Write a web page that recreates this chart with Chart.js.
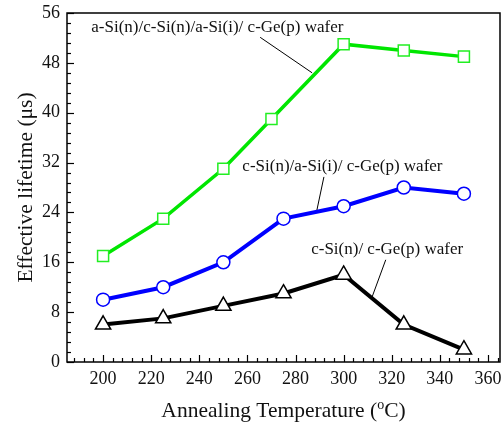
<!DOCTYPE html>
<html><head><meta charset="utf-8">
<script src="https://cdn.jsdelivr.net/npm/chart.js@4/dist/chart.umd.min.js"></script>
<style>html,body{margin:0;padding:0;background:#fff;overflow:hidden}canvas{display:block}</style>
</head><body><canvas id="c" width="504" height="422"></canvas>
<script>
// ---- data ----
const tempsGreen = [200, 225, 250, 270, 300, 325, 350];
const lifeGreen  = [17, 23, 31, 39, 51, 50, 49];
const tempsBlue  = [200, 225, 250, 275, 300, 325, 350];
const lifeBlue   = [10, 12, 16, 23, 25, 28, 27];
const tempsBlack = [200, 225, 250, 275, 300, 325, 350];
const lifeBlack  = [6, 7, 9, 11, 14, 6, 2];
const seriesNames = ['a-Si(n)/c-Si(n)/a-Si(i)/ c-Ge(p) wafer', 'c-Si(n)/a-Si(i)/ c-Ge(p) wafer', 'c-Si(n)/ c-Ge(p) wafer'];
const xTickValues = [200, 220, 240, 260, 280, 300, 320, 340, 360];
const yTickValues = [0, 8, 16, 24, 32, 40, 48, 56];
const xTitle = ['Annealing Temperature (', 'o', 'C)'];
const yTitle = 'Effective lifetime (\u03bcs)';

// annotation placement (data coordinates)
const notes = [
  {text: seriesNames[0], x: 247.5, y: 53.7, line: [265.3, 52.1, 286.9, 46.4]},
  {text: seriesNames[1], x: 299.5, y: 31.4, line: [291.8, 29.7, 288.9, 24.4]},
  {text: seriesNames[2], x: 318.1, y: 18.0, line: [317.5, 16.4, 311.7, 10.3]}
];

const FONT = '"Liberation Serif", "Times New Roman", serif';

const fixArea = {
  id: 'fixArea',
  afterLayout(chart) {
    const x = chart.scales.x, a = chart.chartArea;
    const R = chart.width - 4;
    x.right = R; x.width = R - x.left;
    a.right = R; a.width = R - a.left;
    x.configure();
    x._labelItems = null;
  }
};

const deco = {
  id: 'deco',
  afterDraw(chart) {
    const {ctx, chartArea: a, scales: {x, y}} = chart;
    ctx.save();
    ctx.strokeStyle = '#000';
    ctx.lineWidth = 1.5;
    ctx.strokeRect(a.left, a.top, a.right - a.left, a.bottom - a.top);
    ctx.lineWidth = 1.2;
    for (let v = 188; v <= 364; v += 4) {
      const px = Math.round(x.getPixelForValue(v)) + 0.5;
      const major = v % 20 === 0;
      ctx.beginPath(); ctx.moveTo(px, a.bottom); ctx.lineTo(px, a.bottom - (major ? 7 : 4)); ctx.stroke();
    }
    for (let i = 0; i <= 35; i++) {
      const v = i * 1.6;
      const py = Math.round(y.getPixelForValue(v)) + 0.5;
      const major = i % 5 === 0;
      ctx.beginPath(); ctx.moveTo(a.left, py); ctx.lineTo(a.left + (major ? 7 : 4), py); ctx.stroke();
    }
    ctx.fillStyle = '#111';
    ctx.font = '17px ' + FONT;
    ctx.textAlign = 'center';
    ctx.textBaseline = 'middle';
    ctx.lineWidth = 1;
    notes.forEach(n => {
      ctx.fillText(n.text, x.getPixelForValue(n.x), y.getPixelForValue(n.y));
      ctx.beginPath();
      ctx.moveTo(x.getPixelForValue(n.line[0]), y.getPixelForValue(n.line[1]));
      ctx.lineTo(x.getPixelForValue(n.line[2]), y.getPixelForValue(n.line[3]));
      ctx.stroke();
    });
    const big = '21.5px ' + FONT, small = '14px ' + FONT;
    ctx.font = big;
    ctx.textAlign = 'left';
    ctx.textBaseline = 'alphabetic';
    const w1 = ctx.measureText(xTitle[0]).width;
    ctx.font = small;
    const w2 = ctx.measureText(xTitle[1]).width;
    ctx.font = big;
    const w3 = ctx.measureText(xTitle[2]).width;
    const cx = (a.left + a.right) / 2;
    const sx = cx - (w1 + w2 + w3) / 2;
    const by = 417;
    ctx.fillText(xTitle[0], sx, by);
    ctx.font = small;
    ctx.fillText(xTitle[1], sx + w1, by - 8);
    ctx.font = big;
    ctx.fillText(xTitle[2], sx + w1 + w2, by);
    ctx.save();
    ctx.translate(32, (a.top + a.bottom) / 2);
    ctx.rotate(-Math.PI / 2);
    ctx.textAlign = 'center';
    ctx.textBaseline = 'alphabetic';
    ctx.fillText(yTitle, 0, 0);
    ctx.restore();
    ctx.restore();
  }
};

function ds(xs, ys, color, pcolor, style, r, lw) {
  return {
    data: xs.map((v, i) => ({x: v, y: ys[i]})),
    borderColor: color, borderWidth: lw,
    pointStyle: style, pointRadius: r, pointHoverRadius: r,
    pointBorderColor: pcolor, pointBackgroundColor: '#fff', pointBorderWidth: 1.5,
    tension: 0, fill: false
  };
}

new Chart(document.getElementById('c'), {
  type: 'line',
  data: {
    datasets: [
      ds(tempsGreen, lifeGreen, '#00e600', '#22ee22', 'rect', 7.8, 3.5),
      ds(tempsBlue, lifeBlue, '#0000ff', '#0000ff', 'circle', 6.5, 4),
      ds(tempsBlack, lifeBlack, '#000000', '#000000', 'triangle', 8.8, 4)
    ]
  },
  options: {
    responsive: false, animation: false,
    layout: {padding: {left: 0, top: 13, right: 4, bottom: 0}},
    plugins: {legend: {display: false}, tooltip: {enabled: false}},
    scales: {
      x: {
        type: 'linear', min: 185, max: 365,
        grid: {display: false, drawTicks: false},
        border: {display: false},
        afterBuildTicks: s => { s.ticks = xTickValues.map(v => ({value: v})); },
        afterFit: s => { s.height = 60; s.paddingLeft = 0; s.paddingRight = 0; },
        ticks: {font: {family: FONT, size: 18}, color: '#111', padding: 6, maxRotation: 0, autoSkip: false}
      },
      y: {
        type: 'linear', min: 0, max: 56,
        grid: {display: false, drawTicks: false},
        border: {display: false},
        afterBuildTicks: s => { s.ticks = yTickValues.map(v => ({value: v})); },
        afterFit: s => { s.width = 67; s.paddingTop = 0; s.paddingBottom = 0; s.paddingLeft = 0; s.paddingRight = 0; },
        ticks: {font: {family: FONT, size: 18}, color: '#111', padding: 7}
      }
    }
  },
  plugins: [fixArea, deco]
});
</script>
</body></html>
